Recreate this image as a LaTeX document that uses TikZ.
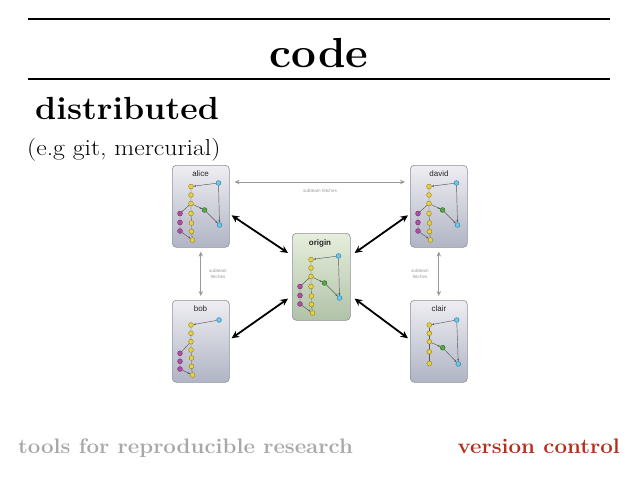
\documentclass[tikz,border=0pt]{standalone}
\usepackage{fontspec}
\usepackage{graphicx}
\newfontfamily\panelsans{Liberation Sans}
\usetikzlibrary{arrows.meta}
\definecolor{yel}{HTML}{E8D048}
\definecolor{yelD}{HTML}{A08A20}
\definecolor{blu}{HTML}{70C8E8}
\definecolor{bluD}{HTML}{2C88B0}
\definecolor{grn}{HTML}{58A848}
\definecolor{grnD}{HTML}{2E7028}
\definecolor{mag}{HTML}{B050A0}
\definecolor{magD}{HTML}{803070}
\definecolor{panelTop}{HTML}{EEEEF2}
\definecolor{panelBot}{HTML}{B0B4C4}
\definecolor{panelDraw}{HTML}{8E909C}
\definecolor{orTop}{HTML}{E6EEDC}
\definecolor{orBot}{HTML}{B0C2A8}
\definecolor{redtxt}{HTML}{B0301C}
\definecolor{graytxt}{HTML}{A8A8A8}
\definecolor{fetchgray}{HTML}{9A9A9A}
\tikzset{
  panel/.style={draw=panelDraw, line width=0.6pt, rounded corners=4pt, minimum width=57pt, minimum height=82pt, top color=panelTop, bottom color=panelBot, inner sep=0pt, anchor=north west},
  orpanel/.style={panel, minimum width=58pt, minimum height=87pt, top color=orTop, bottom color=orBot},
  ptitle/.style={font=\panelsans\fontsize{8}{9}\selectfont, text=black!85, inner sep=0pt},
  commit/.style={circle, inner sep=0pt, minimum size=4.8pt, line width=0.5pt},
  ycm/.style={commit, fill=yel, draw=yelD},
  bcm/.style={commit, fill=blu, draw=bluD},
  gcm/.style={commit, fill=grn, draw=grnD},
  mcm/.style={commit, fill=mag, draw=magD},
  gedge/.style={draw=black!65, line width=0.45pt},
  garrow/.style={gedge, -{Stealth[length=2.4pt,width=2pt]}},
  bigarrow/.style={line width=1.8pt, {Stealth[length=7.5pt,width=7pt]}-{Stealth[length=7.5pt,width=7pt]}},
  fetch/.style={draw=fetchgray, line width=1pt, {Stealth[length=5pt,width=4.5pt]}-{Stealth[length=5pt,width=4.5pt]}},
  fetchlbl/.style={font=\panelsans\fontsize{4.6}{5.4}\selectfont, text=fetchgray, align=center, inner sep=0pt},
  rulel/.style={line width=1.2pt}
}
\newcommand\fullgraph[3]{%
  \begin{scope}[shift={(#2,#3)}]
    \node[bcm] (#1b1) at (46.5,18) {};
    \node[bcm] (#1b2) at (47.5,60) {};
    \node[ycm] (#1y1) at (19,21.5) {};
    \node[ycm] (#1y2) at (19,30) {};
    \node[ycm] (#1y3) at (19,38.5) {};
    \node[ycm] (#1y4) at (19,48.5) {};
    \node[ycm] (#1y5) at (19.5,58) {};
    \node[ycm] (#1y6) at (19.5,66.5) {};
    \node[ycm] (#1y7) at (20.5,75) {};
    \node[gcm] (#1g1) at (32.5,45) {};
    \node[mcm] (#1m1) at (8,48.5) {};
    \node[mcm] (#1m2) at (8,57.5) {};
    \node[mcm] (#1m3) at (8,66) {};
    \draw[garrow] (#1b1) -- (#1y1);
    \draw[garrow] (#1b1) -- (#1b2);
    \draw[gedge] (#1y1) -- (#1y2) -- (#1y3) -- (#1y4) -- (#1y5) -- (#1y6) -- (#1y7);
    \draw[garrow] (#1y3) -- (#1g1);
    \draw[garrow] (#1g1) -- (#1b2);
    \draw[gedge] (#1y3) -- (#1m1) -- (#1m2) -- (#1m3);
    \draw[garrow] (#1m3) -- (#1y7);
  \end{scope}}
\newcommand\bobgraph[3]{%
  \begin{scope}[shift={(#2,#3)}]
    \node[bcm] (#1b1) at (47,20) {};
    \node[ycm] (#1y1) at (19,25) {};
    \node[ycm] (#1y2) at (19,33.3) {};
    \node[ycm] (#1y3) at (19,41.7) {};
    \node[ycm] (#1y4) at (19,50) {};
    \node[ycm] (#1y5) at (19.5,58) {};
    \node[ycm] (#1y6) at (19.5,66.3) {};
    \node[ycm] (#1y7) at (20.5,75) {};
    \node[mcm] (#1m1) at (8,53.3) {};
    \node[mcm] (#1m2) at (8,61.3) {};
    \node[mcm] (#1m3) at (8,69) {};
    \draw[garrow] (#1b1) -- (#1y1);
    \draw[gedge] (#1y1) -- (#1y2) -- (#1y3) -- (#1y4) -- (#1y5) -- (#1y6) -- (#1y7);
    \draw[gedge] (#1y3) -- (#1m1) -- (#1m2) -- (#1m3);
    \draw[garrow] (#1m3) -- (#1y7);
  \end{scope}}
\newcommand\clairgraph[3]{%
  \begin{scope}[shift={(#2,#3)}]
    \node[bcm] (#1b1) at (46.7,20) {};
    \node[bcm] (#1b2) at (48.3,64) {};
    \node[ycm] (#1y1) at (19.3,25) {};
    \node[ycm] (#1y2) at (19.3,33.3) {};
    \node[ycm] (#1y3) at (19.3,41.7) {};
    \node[ycm] (#1y4) at (19.3,51.7) {};
    \node[ycm] (#1y5) at (19.3,63.5) {};
    \node[gcm] (#1g1) at (32.7,47.7) {};
    \draw[garrow] (#1b1) -- (#1y1);
    \draw[garrow] (#1b1) -- (#1b2);
    \draw[gedge] (#1y1) -- (#1y2) -- (#1y3) -- (#1y4) -- (#1y5);
    \draw[garrow] (#1y3) -- (#1g1);
    \draw[garrow] (#1g1) -- (#1b2);
  \end{scope}}
\begin{document}
\begin{tikzpicture}[x=1pt,y=-1pt]
\useasboundingbox[fill=white] (0,0) rectangle (638,479);
% header
\draw[rulel] (28,19) -- (610,19);
\draw[rulel] (28,79) -- (610,79);
\node[anchor=base, inner sep=0pt] (title) at (319,67) {\scalebox{1.05}[1]{\fontsize{42}{42}\selectfont\bfseries code}};
\node[anchor=base west, inner sep=0pt] (dist) at (35,119) {\scalebox{1.06}[1]{\fontsize{32}{32}\selectfont\bfseries distributed}};
\node[anchor=base west, inner sep=0pt] (eg) at (27,155) {\scalebox{1.12}[1]{\fontsize{23}{23}\selectfont (e.g git, mercurial)}};
% panels
\node[panel] (alice) at (172,165) {};
\node[panel] (bob) at (172,300) {};
\node[panel] (david) at (410,165) {};
\node[panel] (clair) at (410,300) {};
\node[orpanel] (origin) at (292,233) {};
\node[ptitle] (alicet) at (200.5,174) {alice};
\node[ptitle] (bobt) at (200.5,309) {bob};
\node[ptitle] (davidt) at (439,174) {david};
\node[ptitle] (clairt) at (439,309) {clair};
\node[ptitle, font=\panelsans\bfseries\fontsize{8}{9}\selectfont] (origint) at (320,243) {origin};
\fullgraph{a}{172}{165}
\bobgraph{b}{172}{300}
\fullgraph{d}{410}{165}
\clairgraph{c}{410}{300}
\fullgraph{o}{292}{238}
% fetch arrows
\draw[fetch] ([xshift=5pt,yshift=-17pt]alice.north east) -- ([xshift=-5pt,yshift=-17pt]david.north west);
\node[fetchlbl] (fl1) at (320,190.5) {subteam fetches};
\draw[fetch] ([yshift=-4pt]alice.south) -- ([yshift=4pt]bob.north);
\node[fetchlbl] (fl2) at (218,274) {subteam\\fetches};
\draw[fetch] ([yshift=-4pt]david.south) -- ([yshift=4pt]clair.north);
\node[fetchlbl] (fl3) at (420,274) {subteam\\fetches};
% big arrows
\draw[bigarrow] ([xshift=2pt,yshift=-9pt]alice.east) -- ([xshift=-4pt,yshift=-20pt]origin.north west);
\draw[bigarrow] ([xshift=2pt,yshift=3pt]bob.east) -- ([xshift=-4pt,yshift=22pt]origin.south west);
\draw[bigarrow] ([xshift=-2pt,yshift=-9pt]david.west) -- ([xshift=4pt,yshift=-20pt]origin.north east);
\draw[bigarrow] ([xshift=-2pt,yshift=3pt]clair.west) -- ([xshift=4pt,yshift=22pt]origin.south east);
% footer
\node[anchor=base west, inner sep=0pt, text=graytxt] (foot1) at (18,453) {\scalebox{1.06}[1]{\fontsize{21}{21}\selectfont\bfseries tools for reproducible research}};
\node[anchor=base east, inner sep=0pt, text=redtxt] (foot2) at (620,453) {\scalebox{1.06}[1]{\fontsize{21}{21}\selectfont\bfseries version control}};
\end{tikzpicture}
\end{document}
